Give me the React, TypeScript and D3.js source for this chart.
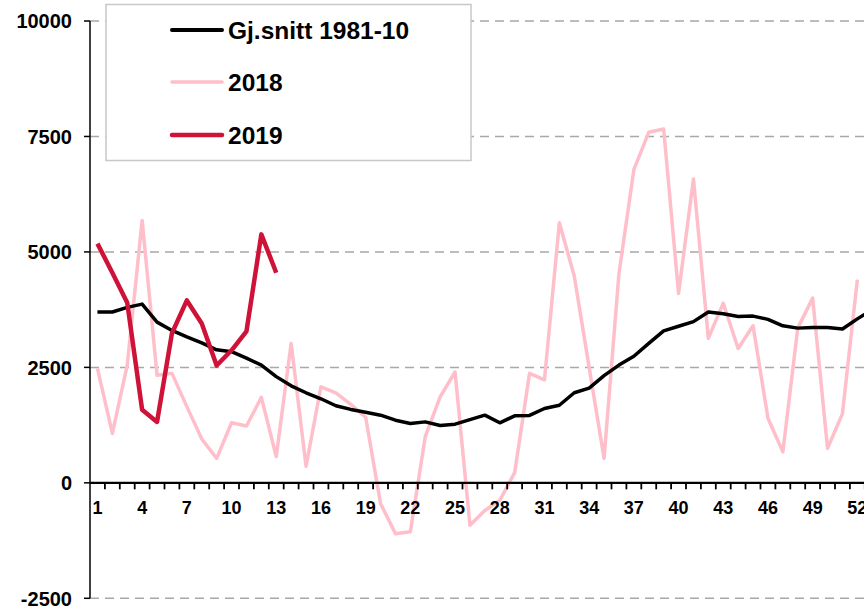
import * as d3 from 'd3';
import React from 'react';

const weeks = d3.range(1, 54);
const avgValues = [3700, 3700, 3800, 3870, 3480, 3300, 3160, 3030, 2880, 2840, 2700, 2550, 2300, 2100, 1950, 1820, 1670, 1590, 1530, 1465, 1356, 1285, 1320, 1240, 1270, 1370, 1465, 1300, 1450, 1460, 1610, 1680, 1950, 2050, 2320, 2550, 2740, 3020, 3290, 3390, 3490, 3700, 3660, 3600, 3610, 3540, 3400, 3350, 3365, 3365, 3330, 3550, 3750];
const values2018 = [2480, 1070, 2550, 5680, 2330, 2370, 1650, 950, 530, 1300, 1230, 1850, 570, 3020, 360, 2080, 1950, 1700, 1420, -450, -1100, -1060, 1000, 1860, 2400, -920, -600, -380, 220, 2370, 2230, 5630, 4480, 2500, 530, 4530, 6780, 7590, 7660, 4100, 6580, 3130, 3890, 2910, 3400, 1400, 670, 3350, 4000, 745, 1500, 4400];
const values2019 = [5180, 4550, 3900, 1580, 1320, 3240, 3950, 3450, 2540, 2870, 3280, 5380, 4550];
const yTicks = [-2500, 0, 2500, 5000, 7500, 10000];
const xLabels = d3.range(1, 54, 3);

const legendItems = [
  { label: 'Gj.snitt 1981-10', color: '#000000', width: 4 },
  { label: '2018', color: '#ffbfca', width: 3.5 },
  { label: '2019', color: '#cf1238', width: 4.5 },
];

const font = '"Liberation Sans", Arial, sans-serif';

export default function App() {
  const width = 864;
  const height = 606;
  const left = 90;
  const band = 14.9;

  const x = d3.scaleBand<number>().domain(weeks).range([left, left + band * weeks.length]).padding(0);
  const y = d3.scaleLinear().domain([-2500, 10000]).range([598.3, 21]);
  const cx = (w: number) => (x(w) as number) + x.bandwidth() / 2;

  const line = d3.line<number>()
    .x((_, i) => cx(i + 1))
    .y((d) => y(d));

  return (
    <svg width={width} height={height} style={{ position: 'absolute', left: 0, top: 0, background: '#fff' }}>
      {/* gridlines */}
      {yTicks.filter((t) => t !== 0).map((t) => (
        <line key={t} x1={left} x2={width} y1={y(t)} y2={y(t)} stroke="#a8a8a8" strokeWidth={1.5} strokeDasharray="9 6" />
      ))}

      {/* legend box */}
      <rect x={106} y={4.5} width={365} height={156} fill="#fff" stroke="#c8c8c8" strokeWidth={1.5} />
      {legendItems.map((d, i) => {
        const ry = [30, 82, 135][i];
        return (
          <g key={d.label}>
            <line x1={172} x2={222} y1={ry} y2={ry} stroke={d.color} strokeWidth={d.width} strokeLinecap="round" />
            <text x={228} y={ry + 8.5} fontFamily={font} fontWeight="bold" fontSize={24.5} fill="#000">{d.label}</text>
          </g>
        );
      })}

      {/* y axis */}
      <line x1={left} x2={left} y1={y(10000)} y2={y(-2500)} stroke="#000" strokeWidth={1.5} />
      {yTicks.map((t) => (
        <g key={t}>
          <line x1={left - 6} x2={left} y1={y(t)} y2={y(t)} stroke="#000" strokeWidth={1.5} />
          <text x={72} y={y(t)} dy="0.36em" textAnchor="end" fontFamily={font} fontWeight="bold" fontSize={20} fill="#000">{t}</text>
        </g>
      ))}

      {/* series */}
      <path d={line(values2018) ?? ''} fill="none" stroke="#ffbfca" strokeWidth={3.5} strokeLinejoin="round" />
      <path d={line(avgValues) ?? ''} fill="none" stroke="#000" strokeWidth={3.5} strokeLinejoin="round" />
      <path d={line(values2019) ?? ''} fill="none" stroke="#cf1238" strokeWidth={4.5} strokeLinejoin="round" />

      {/* x axis */}
      <line x1={left} x2={width} y1={y(0)} y2={y(0)} stroke="#000" strokeWidth={2.2} />
      {weeks.map((w) => (
        <line key={w} x1={(x(w) as number) + band} x2={(x(w) as number) + band} y1={y(0)} y2={y(0) + 6.5} stroke="#000" strokeWidth={1.8} />
      ))}
      {xLabels.map((w) => (
        <text key={w} x={cx(w)} y={514} textAnchor="middle" fontFamily={font} fontWeight="bold" fontSize={18} fill="#000">{w}</text>
      ))}
    </svg>
  );
}
